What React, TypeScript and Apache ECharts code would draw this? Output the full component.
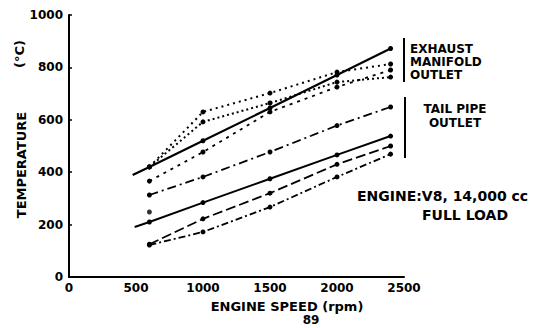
import React, { useEffect, useRef } from "react";
import * as echarts from "echarts";

// Engine speed (rpm) at which the points were taken
const rpm = [600, 1000, 1500, 2000, 2400];

// Exhaust manifold outlet temperatures (°C)
const exhaustA = [420, 520, 645, 771, 872]; // solid
const exhaustAStart = [475, 389]; // solid line extended to the left
const exhaustB = [420, 630, 702, 782, 813]; // dotted
const exhaustC = [420, 592, 664, 744, 763]; // dotted
const exhaustD = [366, 477, 630, 725, 790]; // sparse dotted

// Tail pipe outlet temperatures (°C)
const tailA = [313, 382, 477, 578, 649]; // dash-dot
const tailB = [210, 284, 375, 466, 538]; // solid
const tailBStart = [490, 191]; // solid line extended to the left
const tailC = [125, 222, 320, 430, 500]; // dashed
const tailD = [122, 172, 267, 382, 469]; // dash-dot

// stray plotted point
const strayPoints = [[600, 248]];

const xTicks = { min: 0, max: 2500, interval: 500 };
const yTicks = { min: 0, max: 1000, interval: 200 };

const FONT = "DejaVu Sans";

function pts(values: number[], start?: number[]) {
  const d: any[] = rpm.map((r, i) => ({ value: [r, values[i]] }));
  if (start) d.unshift({ value: start, symbol: "none" });
  return d;
}

function line(name: string, data: any[], type: any, width = 2) {
  return {
    name,
    type: "line",
    data,
    symbol: "circle",
    symbolSize: 5,
    itemStyle: { color: "#000" },
    lineStyle: { color: "#000", width, type },
    z: 3,
  };
}

export default function App() {
  const ref = useRef<HTMLDivElement>(null);
  useEffect(() => {
    if (!ref.current) return;
    const chart = echarts.init(ref.current, undefined, { renderer: "svg" });
    const labelStyle = {
      color: "#000",
      fontSize: 12,
      fontWeight: "bold" as const,
      fontFamily: FONT,
      formatter: (v: number) => String(v),
    };
    chart.setOption({
      animation: false,
      backgroundColor: "#fff",
      grid: { left: 69, top: 15, width: 335, height: 262, containLabel: false },
      xAxis: {
        type: "value",
        ...xTicks,
        axisLine: { show: true, lineStyle: { color: "#000", width: 2 } },
        axisTick: { show: false },
        splitLine: { show: false },
        axisLabel: { ...labelStyle, margin: 5 },
      },
      yAxis: {
        type: "value",
        ...yTicks,
        axisLine: { show: true, lineStyle: { color: "#000", width: 2 } },
        axisTick: { show: true, length: 3, inside: true, lineStyle: { color: "#000", width: 1.5 } },
        splitLine: { show: false },
        axisLabel: { ...labelStyle, margin: 6 },
      },
      series: [
        line("Exhaust A", pts(exhaustA, exhaustAStart), "solid", 2.2),
        line("Exhaust B", pts(exhaustB), [2, 4], 2),
        line("Exhaust C", pts(exhaustC), [2, 3], 2),
        line("Exhaust D", pts(exhaustD), [3, 5], 1.8),
        line("Tail A", pts(tailA), [9, 4, 2, 4], 1.8),
        line("Tail B", pts(tailB, tailBStart), "solid", 2),
        line("Tail C", pts(tailC), [10, 4], 1.8),
        line("Tail D", pts(tailD), [7, 3, 2, 3], 1.8),
        {
          name: "stray",
          type: "scatter",
          data: strayPoints,
          symbol: "circle",
          symbolSize: 5,
          itemStyle: { color: "#000" },
        },
      ],
      graphic: [
        // Exhaust bracket and label
        { type: "line", shape: { x1: 404, y1: 38, x2: 404, y2: 82 }, style: { stroke: "#000", lineWidth: 2 } },
        {
          type: "text",
          x: 410,
          y: 42,
          style: {
            text: "EXHAUST\nMANIFOLD\nOUTLET",
            fill: "#000",
            font: `bold 12px "${FONT}"`,
            lineHeight: 13,
            textAlign: "left",
            textVerticalAlign: "top",
          },
        },
        // Tail pipe bracket and label
        { type: "line", shape: { x1: 405, y1: 97, x2: 405, y2: 158 }, style: { stroke: "#000", lineWidth: 2 } },
        {
          type: "text",
          x: 455,
          y: 102,
          style: {
            text: "TAIL PIPE\nOUTLET",
            fill: "#000",
            font: `bold 12px "${FONT}"`,
            lineHeight: 14,
            textAlign: "center",
            textVerticalAlign: "top",
          },
        },
        // Engine note
        {
          type: "text",
          x: 357,
          y: 196,
          style: {
            text: "ENGINE:V8, 14,000 cc",
            fill: "#000",
            font: `bold 14px "${FONT}"`,
            textAlign: "left",
            textVerticalAlign: "middle",
          },
        },
        {
          type: "text",
          x: 422,
          y: 215,
          style: {
            text: "FULL LOAD",
            fill: "#000",
            font: `bold 14px "${FONT}"`,
            textAlign: "left",
            textVerticalAlign: "middle",
          },
        },
        // Y axis title
        {
          type: "text",
          x: 21,
          y: 165,
          rotation: Math.PI / 2,
          style: {
            text: "TEMPERATURE",
            fill: "#000",
            font: `bold 13px "${FONT}"`,
            textAlign: "center",
            textVerticalAlign: "middle",
          },
        },
        {
          type: "text",
          x: 19,
          y: 54,
          rotation: Math.PI / 2,
          style: {
            text: "(°C)",
            fill: "#000",
            font: `bold 13px "${FONT}"`,
            textAlign: "center",
            textVerticalAlign: "middle",
          },
        },
        // X axis title and page number
        {
          type: "text",
          x: 287,
          y: 306,
          style: {
            text: "ENGINE SPEED (rpm)",
            fill: "#000",
            font: `bold 13px "${FONT}"`,
            textAlign: "center",
            textVerticalAlign: "middle",
          },
        },
        {
          type: "text",
          x: 311,
          y: 320,
          style: {
            text: "89",
            fill: "#000",
            font: `bold 12px "${FONT}"`,
            textAlign: "center",
            textVerticalAlign: "middle",
          },
        },
      ],
    });
    return () => chart.dispose();
  }, []);
  return (
    <div
      ref={ref}
      style={{ position: "fixed", left: 0, top: 0, width: 536, height: 328, background: "#fff" }}
    />
  );
}
